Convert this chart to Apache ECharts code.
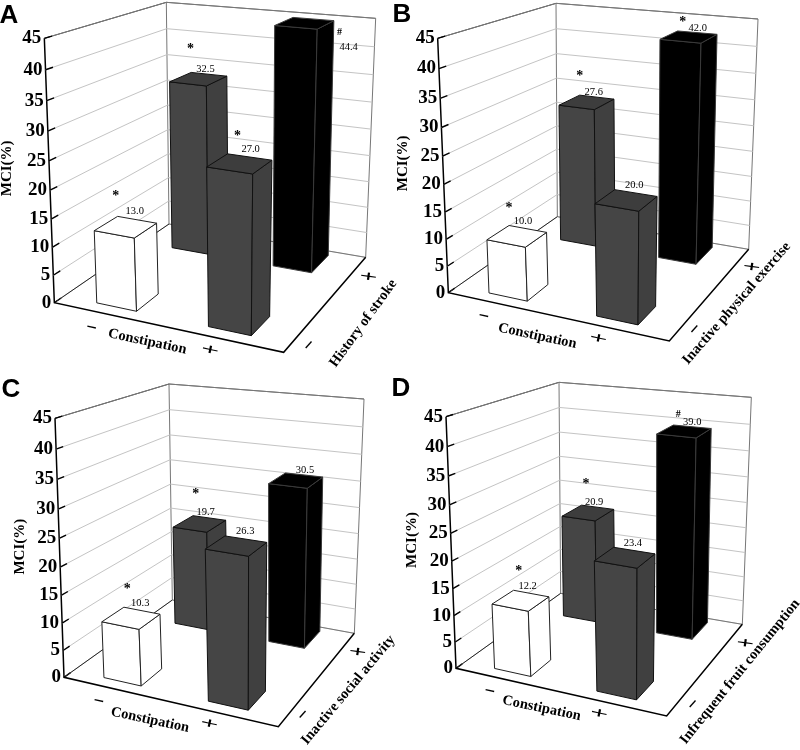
<!DOCTYPE html>
<html><head><meta charset="utf-8">
<script src="https://cdn.jsdelivr.net/npm/echarts@6/dist/echarts.min.js"></script>
<style>html,body{margin:0;padding:0;background:#fff}#c{width:800px;height:750px}</style>
</head><body><div id="c"></div>
<script>
// ---------- data ----------
const tickLabels = [0, 5, 10, 15, 20, 25, 30, 35, 40, 45];
const constipationLevels = ['–', '+'];
const factorLevels = ['–', '+'];
const axisName = 'MCI(%)';
const constipationName = 'Constipation';
const panelNames = ['A', 'B', 'C', 'D'];
const factorNames = ['History of stroke', 'Inactive physical exercise', 'Inactive social activity', 'Infrequent fruit consumption'];
// order: (constipation -, factor -), (-, +), (+, -), (+, +)
const valuesA = [13.0, 32.5, 27.0, 44.4];
const valuesB = [10.0, 27.6, 20.0, 42.0];
const valuesC = [10.3, 19.7, 26.3, 30.5];
const valuesD = [12.2, 20.9, 23.4, 39.0];
const marksA = ['*', '*', '*', '#'];
const marksB = ['*', '*', '', '*'];
const marksC = ['*', '*', '', ''];
const marksD = ['*', '*', '', '#'];

// ---------- layout (reference-image pixels x3, local to each panel) ----------
const uBands = [[.157, .342], [.66, .84]];
const vBands = [[.072, .254], [.732, .95]];
const drawOrder = [1, 3, 0, 2];
const barStyle = [
  {front: '#ffffff', side: '#ffffff', top: '#ffffff', line: '#222'},
  {front: '#454545', side: '#404040', top: '#3d3d3d', line: '#111'},
  {front: '#454545', side: '#404040', top: '#3d3d3d', line: '#111'},
  {front: '#000000', side: '#000000', top: '#000000', line: '#3a3a3a'}
];
const layouts = [
  {ox: 0, oy: 0, FLB: [163, 908], FLT: [133, 115], BLT: [499, 7], BLB: [507, 672], BRT: [1127, 55], BRB: [1097, 772], FRB: [851, 1057], FRT: [876, 202],
   title: [9, 16], yName: [22, 505], cName: [442, 1025, 12], cMinus: [275, 980], cPlus: [630, 1052], fName: [1090, 970, 54], fMinus: [925, 1033], fPlus: [1105, 832],
   label: [[9, -16], [7, -10], [11, -14], [44, 24]], mark: [[-19, -15], [-15, -20], [-13, -13], [-9, -15]]},
  {ox: 400, oy: 0, FLB: [145, 878], FLT: [113, 115], BLT: [468, 10], BLB: [472, 650], BRT: [1074, 57], BRB: [1046, 748], FRB: [808, 1023], FRT: [832, 203],
   title: [2, 15], yName: [8, 490], cName: [412, 1008, 12], cMinus: [252, 945], cPlus: [595, 1017], fName: [1010, 910, 49], fMinus: [882, 985], fPlus: [1055, 803],
   label: [[6, -15], [7, -10], [8, -15], [9, -9]], mark: [[-14, -13], [-14, -16], [0, 0], [-15, -5]]},
  {ox: 0, oy: 375, FLB: [192, 907], FLT: [165, 130], BLT: [507, 27], BLB: [517, 675], BRT: [1092, 72], BRB: [1063, 775], FRB: [835, 1055], FRT: [858, 220],
   title: [11, 15], yName: [60, 515], cName: [450, 1035, 12], cMinus: [297, 975], cPlus: [628, 1048], fName: [1045, 945, 50], fMinus: [907, 1017], fPlus: [1073, 833],
   label: [[9, -15], [6, -11], [9, -14], [9, -10]], mark: [[-13, -14], [-10, -18], [0, 0], [0, 0]]},
  {ox: 400, oy: 375, FLB: [168, 880], FLT: [138, 125], BLT: [477, 22], BLB: [482, 655], BRT: [1054, 67], BRB: [1027, 748], FRB: [800, 1023], FRT: [825, 218],
   title: [1, 14], yName: [35, 495], cName: [425, 1000, 12], cMinus: [270, 945], cPlus: [597, 1017], fName: [1020, 890, 51], fMinus: [877, 985], fPlus: [1035, 807],
   label: [[7, -14], [6, -11], [8, -14], [8, -9]], mark: [[-9, -15], [-8, -17], [0, 0], [-14, -8]]}
];
const panelValues = [valuesA, valuesB, valuesC, valuesD];
const panelMarks = [marksA, marksB, marksC, marksD];

const SERIF = '"Liberation Serif","Times New Roman",serif';
const SANS = '"Liberation Sans",Arial,sans-serif';

// Unit-square to quad homography
function homography(p00, p10, p11, p01) {
  const sx = p00[0] - p10[0] + p11[0] - p01[0], sy = p00[1] - p10[1] + p11[1] - p01[1];
  const dx1 = p10[0] - p11[0], dx2 = p01[0] - p11[0], dy1 = p10[1] - p11[1], dy2 = p01[1] - p11[1];
  const det = dx1 * dy2 - dx2 * dy1;
  const g = (sx * dy2 - dx2 * sy) / det, h = (dx1 * sy - sx * dy1) / det;
  const a = p10[0] - p00[0] + g * p10[0], b = p01[0] - p00[0] + h * p01[0];
  const d = p10[1] - p00[1] + g * p10[1], e = p01[1] - p00[1] + h * p01[1];
  return (u, v) => {
    const w = g * u + h * v + 1;
    return [(a * u + b * v + p00[0]) / w, (d * u + e * v + p00[1]) / w];
  };
}
function projector(L) {
  const floor = homography(L.FLB, L.FRB, L.BRB, L.BLB);
  const roof = homography(L.FLT, L.FRT, L.BRT, L.BLT);
  return (u, v, t) => {
    const k = t / (t + (1 - t) * 1.08);          // slight vertical foreshortening
    const f = floor(u, v), r = roof(u, v);
    return [L.ox + (f[0] + (r[0] - f[0]) * k) / 3, L.oy + (f[1] + (r[1] - f[1]) * k) / 3];
  };
}
// fraction of the value axis, read through ECharts' own scale
function frac(api, val) {
  const y0 = api.coord([0, 0])[1], y1 = api.coord([0, 45])[1];
  return (y0 - api.coord([0, val])[1]) / (y0 - y1);
}
const line = (pts, stroke, lw) => ({type: 'polyline', shape: {points: pts}, style: {stroke, lineWidth: lw, fill: null}, silent: true});
const text = (s, x, y, font, opt) => Object.assign({type: 'text', x, y, style: {text: s, x: 0, y: 0, font, fill: '#000', align: 'center', verticalAlign: 'middle'}, silent: true}, opt || {});

function frameRenderer(pi) {
  const L = layouts[pi], P = projector(L);
  const at = (q) => [L.ox + q[0] / 3, L.oy + q[1] / 3];
  return function (params, api) {
    const t = frac(api, api.value(1));
    const kids = [];
    kids.push(line([P(0, 0, t), P(0, 1, t), P(1, 1, t)], t === 1 ? '#777' : '#c4c4c4', 1));
    kids.push(line([P(0, 0, t), P(0, .05, t)], '#000', 1.4));
    const a = P(0, 0, t);
    kids.push(text(String(api.value(1)), a[0] - 3, a[1], 'bold 19px ' + SERIF, {style: {text: String(api.value(1)), x: 0, y: 0, font: 'bold 19px ' + SERIF, fill: '#000', align: 'right', verticalAlign: 'middle'}}));
    if (params.dataIndex === 0) {
      kids.push(line([P(0, 1, 0), P(0, 1, 1), P(1, 1, 1), P(1, 1, 0), P(0, 1, 0)], '#777', 1));
      kids.push(line([P(0, 0, 1), P(0, 1, 1)], '#444', 1));
      kids.push(line([P(0, 0, 0), P(0, 1, 0)], '#222', 1));
      kids.push(line([P(0, 0, 1), P(0, 0, 0), P(1, 0, 0), P(1, 1, 0)], '#000', 1.5));
      const tp = L.title;
      kids.push(text(panelNames[pi], L.ox + tp[0], L.oy + tp[1], 'bold 26px ' + SANS));
      const yn = at(L.yName);
      kids.push(text(axisName, yn[0], yn[1], 'bold 15px ' + SERIF, {rotation: Math.PI / 2}));
      const cn = at(L.cName);
      kids.push(text(constipationName, cn[0], cn[1], 'bold 14.5px ' + SERIF, {rotation: -L.cName[2] * Math.PI / 180}));
      const fn = at(L.fName);
      kids.push(text(factorNames[pi], fn[0], fn[1], 'bold 14.5px ' + SERIF, {rotation: L.fName[2] * Math.PI / 180}));
      const rc = -12 * Math.PI / 180, rf = 48 * Math.PI / 180, rp = -8 * Math.PI / 180;
      [[L.cMinus, constipationLevels[0], rc, .85, 1], [L.cPlus, constipationLevels[1], rc, 1.6, .8],
       [L.fMinus, factorLevels[0], rf, .85, 1], [L.fPlus, factorLevels[1], rp, 1.6, .8]].forEach(m => {
        const q = at(m[0]);
        kids.push(text(m[1], q[0], q[1], 'bold 20px ' + SERIF, {rotation: m[2], scaleX: m[3], scaleY: m[4]}));
      });
    }
    return {type: 'group', children: kids};
  };
}
function barRenderer(pi) {
  const L = layouts[pi], P = projector(L);
  return function (params, api) {
    const idx = api.value(0), cI = api.value(1), fI = api.value(2), t = frac(api, api.value(3));
    const [u0, u1] = uBands[cI], [v0, v1] = vBands[fI], s = barStyle[idx];
    const poly = (pts, fill) => ({type: 'polygon', shape: {points: pts}, style: {fill, stroke: s.line, lineWidth: 1, lineJoin: 'round'}, silent: true});
    const kids = [
      poly([P(u0, v0, 0), P(u1, v0, 0), P(u1, v0, t), P(u0, v0, t)], s.front),
      poly([P(u1, v0, 0), P(u1, v1, 0), P(u1, v1, t), P(u1, v0, t)], s.side),
      poly([P(u0, v0, t), P(u1, v0, t), P(u1, v1, t), P(u0, v1, t)], s.top)
    ];
    const c = P((u0 + u1) / 2, (v0 + v1) / 2, t);
    const lo = L.label[idx], mo = L.mark[idx];
    const lx = c[0] + lo[0], ly = c[1] + lo[1];
    kids.push(text(api.value(3).toFixed(1), lx, ly, '10.5px ' + SERIF));
    const m = panelMarks[pi][idx];
    if (m) kids.push(text(m, lx + mo[0], ly + mo[1], 'bold ' + (m === '#' ? 10 : 14) + 'px ' + SERIF));
    return {type: 'group', children: kids};
  };
}

const grid = [], xAxis = [], yAxis = [], series = [];
layouts.forEach((L, pi) => {
  grid.push({left: L.ox + L.FLT[0] / 3, top: L.oy + L.FLT[1] / 3, width: (L.FRB[0] - L.FLT[0]) / 3, height: (L.FLB[1] - L.FLT[1]) / 3, show: false});
  xAxis.push({type: 'value', gridIndex: pi, min: 0, max: 1, show: false});
  yAxis.push({type: 'value', gridIndex: pi, min: 0, max: 45, interval: 5, show: false});
  series.push({type: 'custom', xAxisIndex: pi, yAxisIndex: pi, renderItem: frameRenderer(pi), silent: true, animation: false, clip: false, z: 1,
    encode: {x: 0, y: 1}, data: tickLabels.map(v => [0, v])});
  series.push({type: 'custom', xAxisIndex: pi, yAxisIndex: pi, renderItem: barRenderer(pi), silent: true, animation: false, clip: false, z: 2,
    encode: {x: 1, y: 3},
    data: drawOrder.map(i => [i, i >> 1, i & 1, panelValues[pi][i]])});
});
const chart = echarts.init(document.getElementById('c'), null, {renderer: 'canvas'});
chart.setOption({animation: false, backgroundColor: '#fff', tooltip: {show: false}, grid, xAxis, yAxis, series});
</script>
</body></html>
